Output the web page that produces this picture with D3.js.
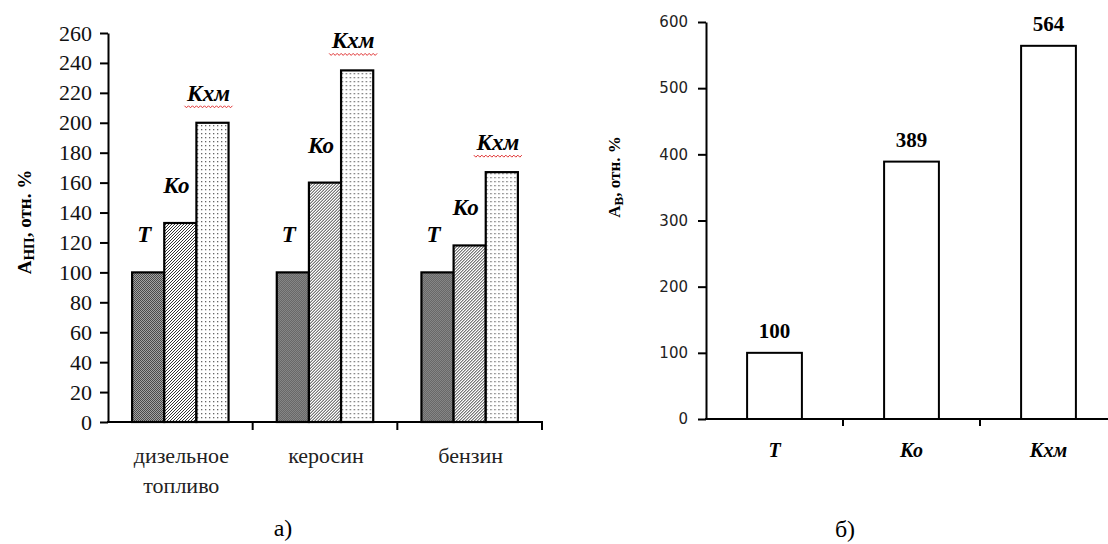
<!DOCTYPE html>
<html>
<head>
<meta charset="utf-8">
<script src="https://cdn.jsdelivr.net/npm/d3@7"></script>
<style>
  body { margin: 0; background: #fff; }
  svg { display: block; }
</style>
</head>
<body>
<svg id="chart" width="1108" height="544"></svg>
<script>
// chart a) - fuels
const fuels = ['дизельное топливо', 'керосин', 'бензин'];
const series = ['Т', 'Ко', 'Кхм'];
const valT = [100, 100, 100];
const valKo = [133, 160, 118];
const valKxm = [200, 235, 167];
const ticksA = d3.range(0, 261, 20);

// chart b)
const catsB = ['Т', 'Ко', 'Кхм'];
const valB = [100, 389, 564];
const ticksB = d3.range(0, 601, 100);

const serif = "'Liberation Serif', 'Times New Roman', serif";
const svg = d3.select('#chart');

// fill patterns
const defs = svg.append('defs');
const pT = defs.append('pattern').attr('id', 'pT')
  .attr('patternUnits', 'userSpaceOnUse').attr('width', 2).attr('height', 2);
pT.append('rect').attr('width', 2).attr('height', 2).attr('fill', '#a4a4a4');
pT.append('rect').attr('width', 1).attr('height', 1).attr('fill', '#4a4a4a');
pT.append('rect').attr('x', 1).attr('y', 1).attr('width', 1).attr('height', 1).attr('fill', '#4a4a4a');

const pKo = defs.append('pattern').attr('id', 'pKo')
  .attr('patternUnits', 'userSpaceOnUse').attr('width', 3).attr('height', 3);
pKo.append('rect').attr('width', 3).attr('height', 3).attr('fill', '#fff');
pKo.append('path').attr('d', 'M-1,1 l2,-2 M0,3 l3,-3 M2,4 l2,-2')
  .attr('stroke', '#333').attr('stroke-width', 1);

const pKxm = defs.append('pattern').attr('id', 'pKxm')
  .attr('patternUnits', 'userSpaceOnUse').attr('width', 4).attr('height', 4);
pKxm.append('rect').attr('width', 4).attr('height', 4).attr('fill', '#fff');
pKxm.append('rect').attr('x', 1).attr('y', 1).attr('width', 1.3).attr('height', 1.3).attr('fill', '#666');

const fills = { 'Т': 'url(#pT)', 'Ко': 'url(#pKo)', 'Кхм': 'url(#pKxm)' };
const labelLift = { 'Т': 30, 'Ко': 30, 'Кхм': 22 };

// ---------- chart a ----------
const x0 = d3.scaleBand().domain(fuels).range([108, 542]).padding(0);
const x1 = d3.scaleBand().domain(series).range([0, x0.bandwidth()])
  .paddingInner(0).paddingOuter(0.75);
const yA = d3.scaleLinear().domain([0, 260]).range([422, 33]);

const rows = fuels.map((f, i) => ({
  fuel: f,
  vals: [
    { s: 'Т', v: valT[i] },
    { s: 'Ко', v: valKo[i] },
    { s: 'Кхм', v: valKxm[i] }
  ]
}));

const gA = svg.append('g');
const groups = gA.selectAll('g.grp').data(rows).enter().append('g')
  .attr('class', 'grp')
  .attr('transform', (d) => `translate(${x0(d.fuel)},0)`);

groups.selectAll('rect').data((d) => d.vals).enter().append('rect')
  .attr('x', (d) => x1(d.s))
  .attr('y', (d) => yA(d.v))
  .attr('width', x1.bandwidth())
  .attr('height', (d) => yA(0) - yA(d.v))
  .attr('fill', (d) => fills[d.s])
  .attr('stroke', '#000')
  .attr('stroke-width', 2.2);

const lbl = groups.selectAll('g.lbl').data((d) => d.vals).enter().append('g')
  .attr('class', 'lbl')
  .attr('transform', (d) => `translate(${x1(d.s) + x1.bandwidth() / 2 - 4},${yA(d.v) - labelLift[d.s]})`);
lbl.append('text')
  .attr('text-anchor', 'middle')
  .attr('font-family', serif)
  .attr('font-size', 23)
  .attr('font-weight', 'bold')
  .attr('font-style', 'italic')
  .text((d) => d.s);
// red spell-check squiggle under Кхм
lbl.filter((d) => d.s === 'Кхм').append('path')
  .attr('d', () => {
    let p = d3.path();
    p.moveTo(-24, 5);
    for (let k = 0; k < 24; k++) p.lineTo(-24 + (k + 1) * 2, k % 2 ? 5 : 7);
    return p.toString();
  })
  .attr('fill', 'none').attr('stroke', '#e03030').attr('stroke-width', 1);

// y axis a
const axA = gA.append('g').attr('transform', 'translate(108,0)')
  .call(d3.axisLeft(yA).tickValues(ticksA).tickSize(8).tickSizeOuter(0).tickPadding(8));
axA.select('.domain').attr('stroke-width', 2);
axA.selectAll('.tick line').attr('stroke-width', 2);
axA.selectAll('.tick text').attr('font-family', serif).attr('font-size', 22).attr('fill', '#111');

// x axis a
gA.append('line').attr('x1', 107).attr('x2', x0.range()[1] + 1)
  .attr('y1', yA(0)).attr('y2', yA(0)).attr('stroke', '#000').attr('stroke-width', 2);
gA.selectAll('line.xt').data(fuels.slice(1).map((f) => x0(f)).concat([x0.range()[1]]))
  .enter().append('line').attr('class', 'xt')
  .attr('x1', (d) => d).attr('x2', (d) => d)
  .attr('y1', yA(0)).attr('y2', yA(0) + 8)
  .attr('stroke', '#000').attr('stroke-width', 2);

const xl = gA.selectAll('text.xl').data(fuels).enter().append('text')
  .attr('class', 'xl')
  .attr('text-anchor', 'middle')
  .attr('font-family', serif)
  .attr('font-size', 22)
  .attr('fill', '#222')
  .attr('transform', (d) => `translate(${x0(d) + x0.bandwidth() / 2 + 1},463)`);
xl.selectAll('tspan').data((d) => d.split(' ')).enter().append('tspan')
  .attr('x', 0).attr('dy', (d, i) => (i ? 30 : 0)).text((d) => d);

// y title a
const tA = gA.append('text')
  .attr('transform', 'translate(31,222) rotate(-90)')
  .attr('text-anchor', 'middle')
  .attr('font-family', serif).attr('font-size', 19).attr('font-weight', 'bold');
tA.append('tspan').text('А');
tA.append('tspan').attr('font-size', 15).attr('dy', 3).text('НП');
tA.append('tspan').attr('dy', -3).text(', отн. %');

gA.append('text').attr('x', 283).attr('y', 536).attr('text-anchor', 'middle')
  .attr('font-family', serif).attr('font-size', 24).text('а)');

// ---------- chart b ----------
const xB0 = d3.scaleBand().domain(catsB).range([706, 1117]).padding(0);
const xB = d3.scaleBand().domain(catsB).range([706, 1117])
  .paddingInner(0.6).paddingOuter(0.3);
const yB = d3.scaleLinear().domain([0, 600]).range([419, 22]);
const gB = svg.append('g');

gB.selectAll('rect').data(valB).enter().append('rect')
  .attr('x', (d, i) => xB(catsB[i]))
  .attr('y', (d) => yB(d))
  .attr('width', xB.bandwidth())
  .attr('height', (d) => yB(0) - yB(d))
  .attr('fill', '#fff').attr('stroke', '#000').attr('stroke-width', 2);

gB.selectAll('text.val').data(valB).enter().append('text')
  .attr('class', 'val')
  .attr('x', (d, i) => xB(catsB[i]) + xB.bandwidth() / 2)
  .attr('y', (d) => yB(d) - 15)
  .attr('text-anchor', 'middle')
  .attr('font-family', serif).attr('font-size', 21).attr('font-weight', 'bold')
  .text((d) => d);

const axB = gB.append('g').attr('transform', 'translate(706,0)')
  .call(d3.axisLeft(yB).tickValues(ticksB).tickSize(8).tickSizeOuter(0).tickPadding(10));
axB.select('.domain').attr('stroke-width', 2);
axB.selectAll('.tick line').attr('stroke-width', 2);
axB.selectAll('.tick text').attr('font-family', "'DejaVu Sans', Verdana, sans-serif")
  .attr('font-size', 15).attr('fill', '#222');

gB.append('line').attr('x1', 705).attr('x2', 1108)
  .attr('y1', yB(0)).attr('y2', yB(0)).attr('stroke', '#000').attr('stroke-width', 2);
gB.selectAll('line.xt').data(catsB.slice(1).map((c) => xB0(c)))
  .enter().append('line').attr('class', 'xt')
  .attr('x1', (d) => d).attr('x2', (d) => d)
  .attr('y1', yB(0)).attr('y2', yB(0) + 7)
  .attr('stroke', '#000').attr('stroke-width', 2);

gB.selectAll('text.xl').data(catsB).enter().append('text')
  .attr('class', 'xl')
  .attr('x', (d) => xB(d) + xB.bandwidth() / 2)
  .attr('y', 457)
  .attr('text-anchor', 'middle')
  .attr('font-family', serif).attr('font-size', 20)
  .attr('font-weight', 'bold').attr('font-style', 'italic')
  .text((d) => d);

const tB = gB.append('text')
  .attr('transform', 'translate(620,177) rotate(-90)')
  .attr('text-anchor', 'middle')
  .attr('font-family', serif).attr('font-size', 17).attr('font-weight', 'bold');
tB.append('tspan').text('А');
tB.append('tspan').attr('font-size', 13).attr('dy', 3).text('В');
tB.append('tspan').attr('dy', -3).text(', отн. %');

gB.append('text').attr('x', 845).attr('y', 537).attr('text-anchor', 'middle')
  .attr('font-family', serif).attr('font-size', 24).text('б)');
</script>
</body>
</html>
